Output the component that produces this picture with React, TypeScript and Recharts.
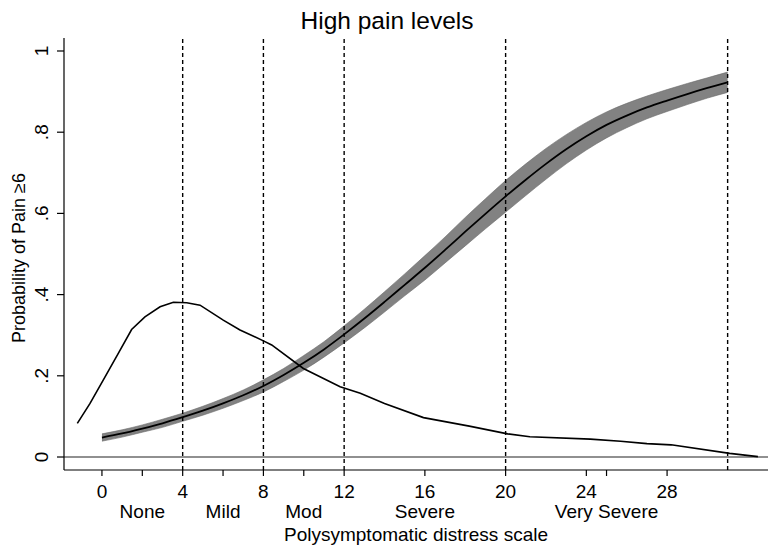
import {
  ComposedChart,
  Area,
  Line,
  XAxis,
  YAxis,
  ReferenceLine,
} from "recharts";

// polysymptomatic distress scale, fitted probability of pain >= 6 with 95% CI
const pdsScores = [0, 1, 2, 3, 4, 5, 6, 7, 8, 9, 10, 11, 12, 13, 14, 15, 16, 17, 18, 19, 20, 21, 22, 23, 24, 25, 26, 27, 28, 29, 30, 31];
const probMid = [0.048, 0.058, 0.07, 0.083, 0.098, 0.114, 0.132, 0.152, 0.175, 0.202, 0.232, 0.265, 0.302, 0.341, 0.382, 0.424, 0.466, 0.51, 0.555, 0.599, 0.642, 0.683, 0.722, 0.758, 0.79, 0.818, 0.841, 0.861, 0.878, 0.894, 0.909, 0.923];
const probLo = [0.039, 0.049, 0.061, 0.073, 0.088, 0.103, 0.12, 0.139, 0.16, 0.186, 0.214, 0.246, 0.281, 0.318, 0.357, 0.397, 0.436, 0.478, 0.52, 0.562, 0.603, 0.644, 0.684, 0.722, 0.756, 0.786, 0.811, 0.833, 0.851, 0.868, 0.884, 0.898];
const probHi = [0.057, 0.067, 0.079, 0.093, 0.108, 0.125, 0.144, 0.165, 0.19, 0.218, 0.25, 0.284, 0.323, 0.364, 0.407, 0.451, 0.496, 0.542, 0.59, 0.636, 0.681, 0.722, 0.76, 0.794, 0.824, 0.85, 0.871, 0.889, 0.905, 0.92, 0.934, 0.948];

// distribution of the scale (density line)
const densX = [-1.22, -0.59, 0.07, 0.81, 1.47, 2.13, 2.88, 3.54, 4.2, 4.86, 6.01, 6.84, 8.0, 8.41, 9.98, 11.8, 12.8, 14.0, 15.93, 18.2, 20.1, 21.2, 24.2, 25.7, 27.0, 28.2, 31.1, 32.5];
const densY = [0.083, 0.132, 0.19, 0.255, 0.314, 0.345, 0.37, 0.381, 0.38, 0.374, 0.337, 0.313, 0.286, 0.276, 0.218, 0.173, 0.157, 0.132, 0.097, 0.076, 0.057, 0.05, 0.044, 0.039, 0.033, 0.03, 0.009, 0.001];

const cutoffs = [4, 8, 12, 20, 31];
const numberTicks = [0, 4, 8, 12, 16, 20, 24, 28];
const categoryTicks = [2, 6, 10, 16, 25];
const categoryNames = ["None", "Mild", "Mod", "Severe", "Very Severe"];
const yTicks = [0, 0.2, 0.4, 0.6, 0.8, 1];

const allXTicks = Array.from(new Set([...numberTicks, ...categoryTicks])).sort((a, b) => a - b);

const bandData = pdsScores.map((x, i) => ({
  x,
  mid: probMid[i],
  band: [probLo[i], probHi[i]],
}));

const densData = densX.map((x, i) => ({ x, dens: densY[i] }));

const FONT = "'Liberation Sans', Arial, Helvetica, sans-serif";

const fmtY = (v: number) => (v === 0 ? "0" : v === 1 ? "1" : String(v).replace(/^0/, ""));

const YTick = (props: any) => {
  const { x, y, payload } = props;
  const cx = x - 13.5;
  return (
    <text
      x={cx}
      y={y}
      transform={`rotate(-90 ${cx} ${y})`}
      textAnchor="middle"
      dominantBaseline="central"
      fontSize={19}
      fontFamily={FONT}
      fill="#000"
    >
      {fmtY(payload.value)}
    </text>
  );
};

const XTick = (props: any) => {
  const { x, y, payload } = props;
  const v = payload.value;
  const ci = categoryTicks.indexOf(v);
  return (
    <g>
      {numberTicks.includes(v) && (
        <text x={x} y={y + 13.5} textAnchor="middle" dominantBaseline="central" fontSize={19} fontFamily={FONT} fill="#000">
          {v}
        </text>
      )}
      {ci >= 0 && (
        <text x={x} y={y + 33.5} textAnchor="middle" dominantBaseline="central" fontSize={19} fontFamily={FONT} fill="#000">
          {categoryNames[ci]}
        </text>
      )}
    </g>
  );
};

const YLabel = () => (
  <text
    x={19}
    y={258}
    transform="rotate(-90 19 258)"
    textAnchor="middle"
    dominantBaseline="central"
    fontSize={18}
    fontFamily={FONT}
    fill="#000"
  >
    Probability of Pain ≥6
  </text>
);

export default function App() {
  return (
    <div style={{ position: "absolute", left: 0, top: 0, width: 780, height: 557, background: "#fff", fontFamily: FONT }}>
      <div style={{ position: "absolute", left: 0, top: 9, width: 774, textAlign: "center", fontSize: 24.5, lineHeight: "24px", color: "#000" }}>
        High pain levels
      </div>
      <ComposedChart width={780} height={557} data={bandData} margin={{ top: 38, right: 12, left: 0, bottom: 0 }}>
        <XAxis
          type="number"
          dataKey="x"
          domain={[-1.88, 33.0]}
          allowDataOverflow
          ticks={allXTicks}
          interval={0}
          height={87}
          tickSize={6}
          tick={<XTick />}
          axisLine={{ stroke: "#000", strokeWidth: 1.2 }}
          tickLine={{ stroke: "#000", strokeWidth: 1.2 }}
          label={{ value: "Polysymptomatic distress scale", position: "insideBottom", offset: 16, fontSize: 19, fill: "#000", fontFamily: FONT }}
        />
        <YAxis
          type="number"
          domain={[-0.032, 1.032]}
          allowDataOverflow
          ticks={yTicks}
          interval={0}
          width={64}
          tickSize={7}
          tick={<YTick />}
          axisLine={{ stroke: "#000", strokeWidth: 1.2 }}
          tickLine={{ stroke: "#000", strokeWidth: 1.2 }}
          label={<YLabel />}
        />
        <ReferenceLine y={0} stroke="#222" strokeWidth={1.2} />
        {cutoffs.map((c) => (
          <ReferenceLine key={c} x={c} stroke="#000" strokeWidth={1.4} strokeDasharray="4 3" />
        ))}
        <Area
          type="monotone"
          dataKey="band"
          fill="#828282"
          fillOpacity={1}
          stroke="#6a6a6a"
          strokeWidth={0.6}
          isAnimationActive={false}
        />
        <Line type="monotone" dataKey="mid" stroke="#000" strokeWidth={1.8} dot={false} isAnimationActive={false} />
        <Line
          data={densData}
          type="linear"
          dataKey="dens"
          stroke="#000"
          strokeWidth={1.6}
          dot={false}
          isAnimationActive={false}
        />
      </ComposedChart>
    </div>
  );
}
